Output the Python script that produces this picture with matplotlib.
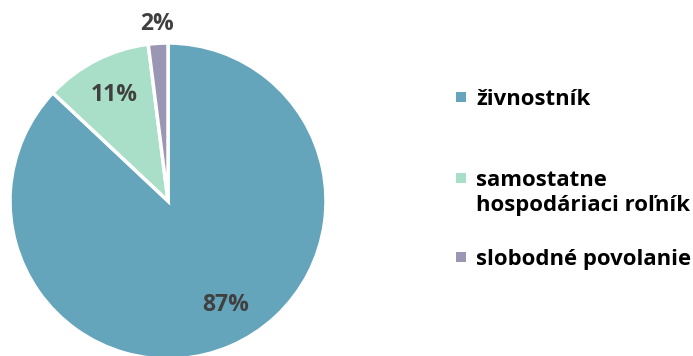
import numpy as np
import matplotlib.pyplot as plt
from matplotlib.patches import Rectangle

# Share of each group (percent)
labels = ["živnostník", "samostatne\nhospodáriaci roľník", "slobodné povolanie"]
shares = [87, 11, 2]
colors = ["#64A5BC", "#A9DEC9", "#9A97B5"]

# Label radius (fraction of pie radius) and angular nudge in degrees
label_r = [0.75, 0.75, 1.12]
label_nudge = [5.5, 0, 0]
# Vertical position of the first line of each legend entry, pixels from top
legend_y = [97, 178, 257]
line_step = 25

W, H = 693, 356
fig = plt.figure(figsize=(W / 100, H / 100), dpi=100)
ax = fig.add_axes([0, 0, 1, 1])

cx, cy, r = 168, H - 201, 158
wedges, _ = ax.pie(shares, colors=colors, startangle=90, counterclock=False,
                   center=(cx, cy), radius=r, frame=True,
                   wedgeprops=dict(edgecolor="white", linewidth=2.5))
ax.set_xlim(0, W)
ax.set_ylim(0, H)
ax.set_aspect("equal")
ax.axis("off")

font = "Open Sans"
for w, v, lr, nd in zip(wedges, shares, label_r, label_nudge):
    mid = np.deg2rad((w.theta1 + w.theta2) / 2 + nd)
    x = cx + lr * r * np.cos(mid)
    y = cy + lr * r * np.sin(mid)
    ax.text(x, y, f"{v}%", ha="center", va="center", fontsize=16.5,
            fontweight="bold", color="#404040", family=font)

# Hand-placed legend with square markers
for lab, col, ly in zip(labels, colors, legend_y):
    y = H - ly
    ax.add_patch(Rectangle((456, y - 5), 10, 10, facecolor=col, edgecolor="none"))
    for i, line in enumerate(lab.split("\n")):
        ax.text(476, y - i * line_step, line, ha="left", va="center_baseline",
                fontsize=15.9, fontweight="bold", color="black", family=font)

fig.savefig("out.png", dpi=100)
